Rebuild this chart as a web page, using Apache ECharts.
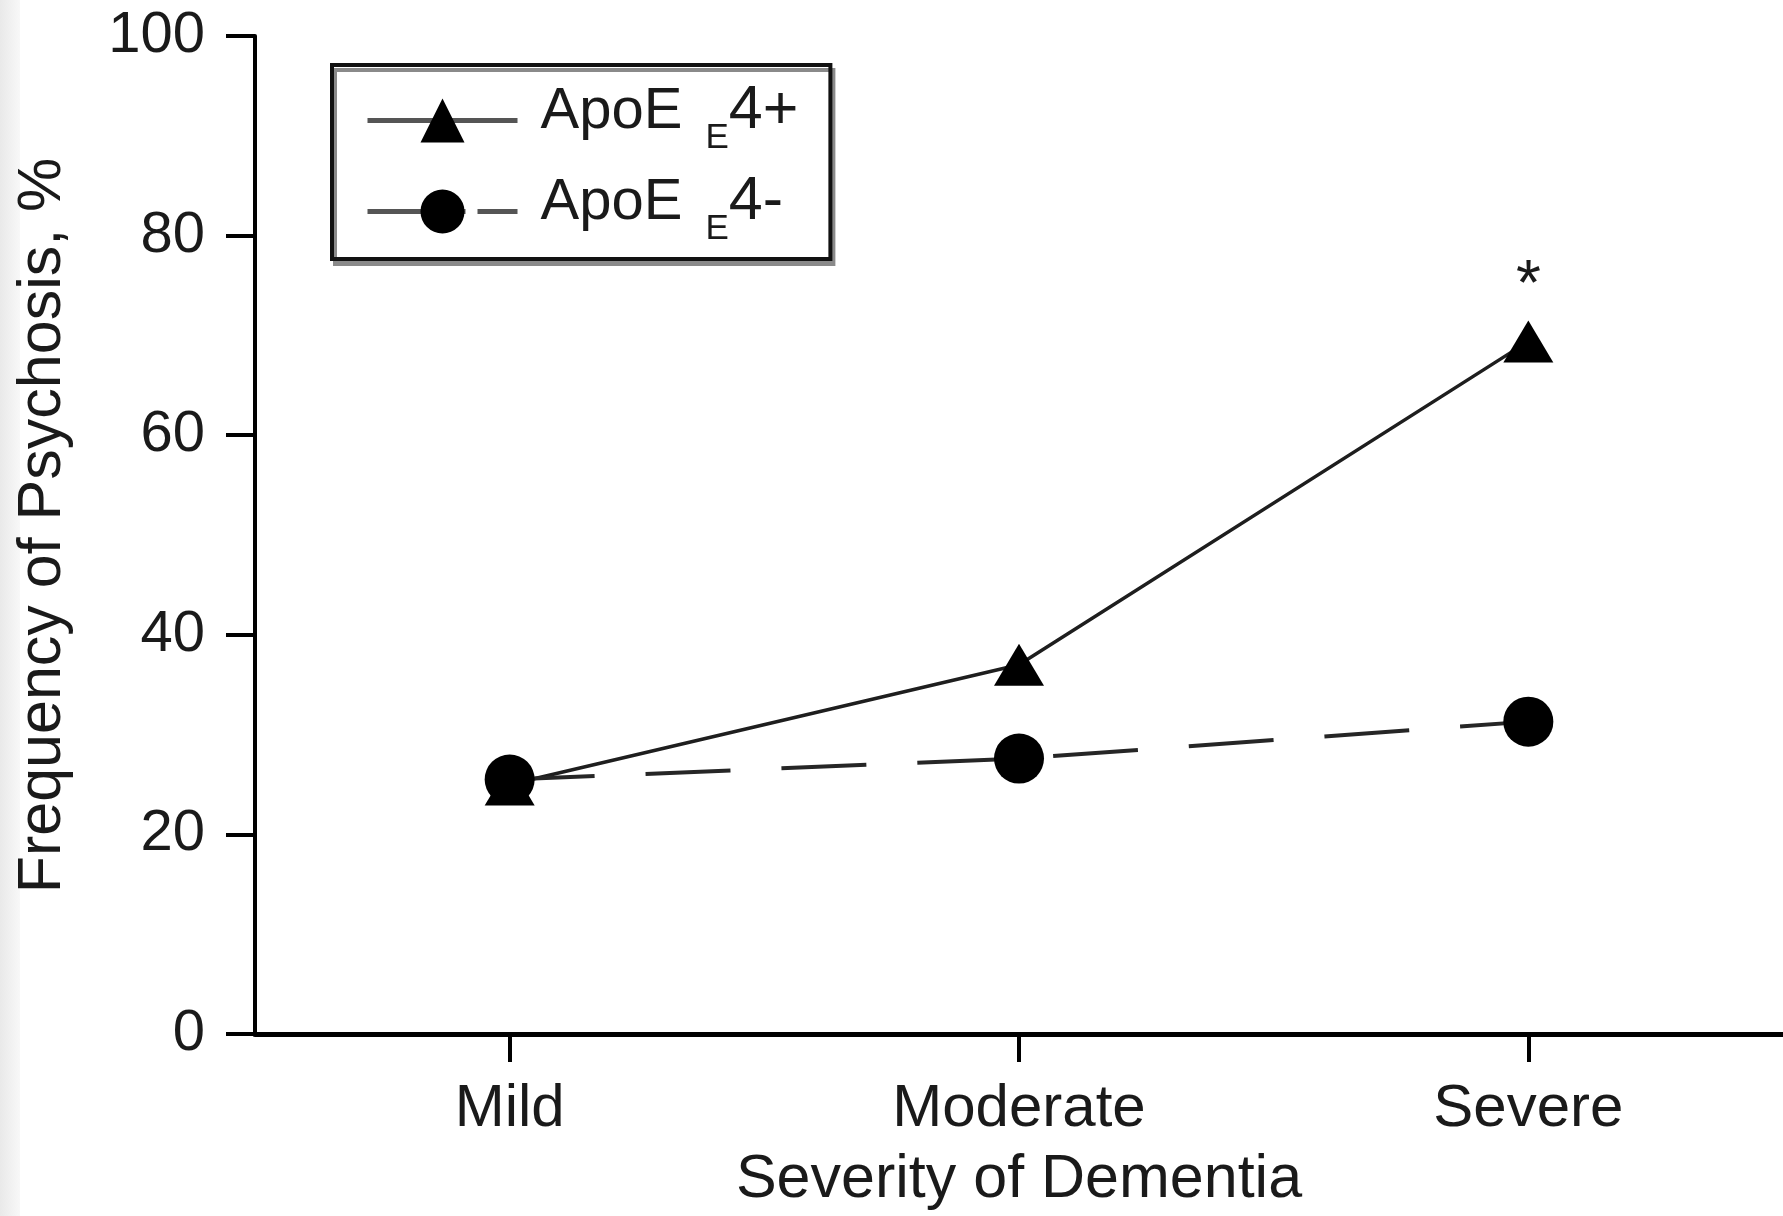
<!DOCTYPE html>
<html><head><meta charset="utf-8">
<script src="https://cdn.jsdelivr.net/npm/echarts@6/dist/echarts.min.js"></script>
<style>html,body{margin:0;padding:0;background:#fff}#c{width:1783px;height:1216px}</style>
</head><body><div id="c"></div>
<script>
const categories = ['Mild', 'Moderate', 'Severe'];
const apoePos = [25, 37, 69.4];
const apoeNeg = [25.5, 27.6, 31.3];
const yTicks = [0, 20, 40, 60, 80, 100];
const seriesNames = ['ApoE E4+', 'ApoE E4-'];
const legendParts = { 'ApoE E4+': ['ApoE ', 'E', '4+'], 'ApoE E4-': ['ApoE ', 'E', '4-'] };
const sigIndex = 2;
const sigMark = '*';
const xTitle = 'Severity of Dementia';
const yTitle = 'Frequency of Psychosis, %';

const FONT = '"Liberation Sans", Arial, Helvetica, sans-serif';
const INK = '#1a1a1a';

const chart = echarts.init(document.getElementById('c'), null, { renderer: 'canvas' });

const posData = apoePos.map((v, i) => i === sigIndex ? {
  value: v,
  label: { show: true, position: 'top', distance: 1, formatter: sigMark, fontSize: 64, color: INK, fontFamily: FONT }
} : v);

chart.setOption({
  backgroundColor: '#fff',
  animation: false,
  graphic: [{
    type: 'rect', left: 0, top: 0, shape: { width: 20, height: 1216 }, silent: true,
    style: { fill: new echarts.graphic.LinearGradient(0, 0, 1, 0, [{ offset: 0, color: '#e9e9e9' }, { offset: 1, color: '#f8f8f8' }]) }
  }],
  grid: { left: 255, right: 0, top: 36, bottom: 181, containLabel: false },
  legend: {
    orient: 'vertical', left: 332, top: 65,
    padding: [16, 32, 12, 33],
    itemWidth: 150, itemHeight: 55, itemGap: 16,
    backgroundColor: '#fff', borderColor: '#111', borderWidth: 4, borderRadius: 0,
    shadowColor: '#8a8a8a', shadowOffsetX: 3, shadowOffsetY: 5, shadowBlur: 0,
    lineStyle: { width: 5, color: '#555' },
    data: [
      { name: seriesNames[0] },
      { name: seriesNames[1], lineStyle: { type: [98, 12], width: 5, color: '#555' } }
    ],
    formatter: function (name) {
      const p = legendParts[name];
      return '{a|' + p[0] + '}{s|' + p[1] + '}{b|' + p[2] + '}';
    },
    textStyle: {
      fontFamily: FONT, color: INK, fontSize: 58,
      rich: {
        a: { fontFamily: FONT, color: INK, fontSize: 58, padding: [0, 7, 18, 18] },
        b: { fontFamily: FONT, color: INK, fontSize: 61, padding: [0, 0, 18, 0] },
        s: { fontFamily: FONT, color: INK, fontSize: 35, padding: [36, 0, 0, 0] }
      }
    }
  },
  xAxis: {
    type: 'category', data: categories, boundaryGap: true,
    axisLine: { show: true, lineStyle: { color: '#000', width: 5 } },
    axisTick: { show: true, alignWithLabel: true, length: 28, lineStyle: { color: '#000', width: 4 } },
    axisLabel: { margin: 45, fontSize: 60, color: INK, fontFamily: FONT },
    splitLine: { show: false },
    name: xTitle, nameLocation: 'middle', nameGap: 116,
    nameTextStyle: { fontSize: 61, color: INK, fontFamily: FONT }
  },
  yAxis: {
    type: 'value', min: 0, max: 100, interval: 20,
    axisLine: { show: true, lineStyle: { color: '#000', width: 4 } },
    axisTick: { show: true, length: 29, lineStyle: { color: '#000', width: 4 } },
    axisLabel: {
      margin: 50, fontSize: 58, color: INK, fontFamily: FONT,
      formatter: v => yTicks.indexOf(v) >= 0 ? String(v) : ''
    },
    splitLine: { show: false },
    name: yTitle, nameLocation: 'middle', nameGap: 181, nameRotate: 90,
    nameTextStyle: { fontSize: 61, color: INK, fontFamily: FONT, padding: [0, 0, 0, 19] }
  },
  series: [
    {
      name: seriesNames[0], type: 'line', data: posData,
      symbol: 'triangle', symbolSize: [50, 42],
      lineStyle: { color: '#1e1e1e', width: 3.5, type: 'solid' },
      itemStyle: { color: '#000' }, z: 2
    },
    {
      name: seriesNames[1], type: 'line', data: apoeNeg,
      symbol: 'circle', symbolSize: 50,
      lineStyle: { color: '#262626', width: 4, type: [85, 51] },
      itemStyle: { color: '#000' }, z: 3
    }
  ]
});
</script></body></html>
